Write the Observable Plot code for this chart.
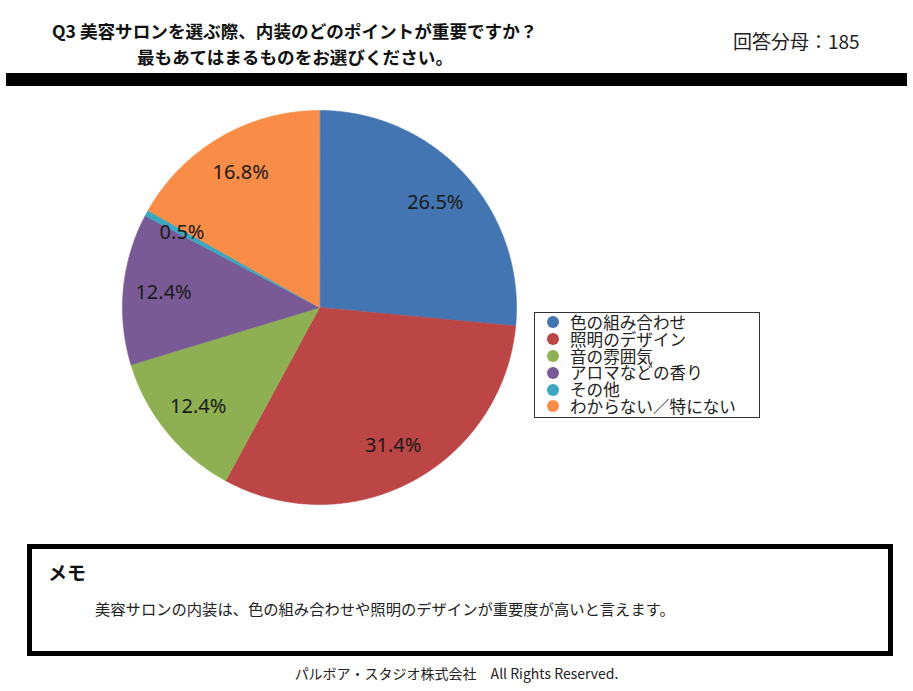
<!DOCTYPE html>
<html>
<head>
<meta charset="utf-8">
<script src="https://cdn.jsdelivr.net/npm/d3@7"></script>
<script src="https://cdn.jsdelivr.net/npm/@observablehq/plot@0.6"></script>
<style>
  html, body { margin: 0; padding: 0; background: #fff; }
  #page { position: relative; width: 913px; height: 691px; overflow: hidden; font-family: "Noto Sans CJK JP", "Noto Sans", sans-serif; color: #111; }
  .abs { position: absolute; white-space: nowrap; }
  #t1, #t2 { font-weight: bold; font-size: 17.6px; line-height: 20px; }
  #total { font-size: 19px; line-height: 22px; color: #222; }
  #bar { left: 6px; top: 73px; width: 901px; height: 13px; background: #000; }
  #legend { left: 534px; top: 312px; width: 226px; height: 106px; border: 1px solid #333; box-sizing: border-box; padding-top: 1px; }
  .li { display: flex; align-items: center; height: 16.8px; overflow: visible; }
  .lt { display: block; height: 16.8px; line-height: 16.8px; font-size: 16.6px; color: #222; }
  .dot { width: 12px; height: 12px; border-radius: 50%; margin-left: 12px; margin-right: 11px; flex: none; }
  #memo { left: 27px; top: 544px; width: 866px; height: 112px; border: 5px solid #000; box-sizing: border-box; }
  #memoTitle { left: 16px; top: 9px; font-weight: bold; font-size: 19px; }
  #memoText { left: 63px; top: 48px; font-size: 15.3px; color: #222; }
  #footer { left: 0; width: 913px; top: 663px; text-align: center; font-size: 14px; color: #222; }
  #pie { left: 122px; top: 110px; }
</style>
</head>
<body>
<div id="page">
  <div class="abs" id="t1" style="left:52px;top:21px;">Q3 美容サロンを選ぶ際、内装のどのポイントが重要ですか？</div>
  <div class="abs" id="t2" style="left:137px;top:47px;">最もあてはまるものをお選びください。</div>
  <div class="abs" id="total" style="left:733px;top:30px;">回答分母：185</div>
  <div class="abs" id="bar"></div>
  <div class="abs" id="pie"></div>
  <div class="abs" id="legend"></div>
  <div class="abs" id="memo">
    <div class="abs" id="memoTitle">メモ</div>
    <div class="abs" id="memoText">美容サロンの内装は、色の組み合わせや照明のデザインが重要度が高いと言えます。</div>
  </div>
  <div class="abs" id="footer">パルボア・スタジオ株式会社　All Rights Reserved.</div>
</div>
<script>
// ---- data ----
const categories = ["色の組み合わせ", "照明のデザイン", "音の雰囲気", "アロマなどの香り", "その他", "わからない／特にない"];
const values = [26.5, 31.4, 12.4, 12.4, 0.5, 16.8];
const colors = ["#4375B2", "#BC4545", "#8EB052", "#795A97", "#3BA7C0", "#F98C47"];
const valueLabels = ["26.5%", "31.4%", "12.4%", "12.4%", "0.5%", "16.8%"];

// ---- geometry derived from the data (clockwise from 12 o'clock) ----
const total = d3.sum(values);
const slicePoints = [];
const labelPoints = [];
let acc = 0;
categories.forEach((cat, i) => {
  const a0 = acc / total * 2 * Math.PI;
  acc += values[i];
  const a1 = acc / total * 2 * Math.PI;
  slicePoints.push({cat, x: 0, y: 0});
  const n = Math.max(2, Math.ceil((a1 - a0) / (Math.PI / 360)));
  for (let k = 0; k <= n; k++) {
    const a = a0 + (a1 - a0) * k / n;
    slicePoints.push({cat, x: Math.sin(a), y: Math.cos(a)});
  }
  const am = (a0 + a1) / 2;
  const rl = 0.795;
  labelPoints.push({cat, text: valueLabels[i], x: rl * Math.sin(am), y: rl * Math.cos(am)});
});

const chart = Plot.plot({
  width: 394,
  height: 394,
  margin: 0,
  x: {domain: [-1, 1], axis: null},
  y: {domain: [-1, 1], axis: null},
  color: {domain: categories, range: colors},
  style: {background: "transparent", overflow: "visible"},
  marks: [
    Plot.line(slicePoints, {x: "x", y: "y", z: "cat", fill: "cat", stroke: "cat", strokeWidth: 0.6, curve: "linear-closed"}),
    Plot.text(labelPoints, {x: "x", y: "y", text: "text", fontSize: 20, fill: "#1a1a1a", fontFamily: "'Noto Sans', sans-serif"})
  ]
});
document.getElementById("pie").appendChild(chart);

// ---- legend ----
const legend = document.getElementById("legend");
categories.forEach((cat, i) => {
  const row = document.createElement("div");
  row.className = "li";
  const dot = document.createElement("span");
  dot.className = "dot";
  dot.style.background = colors[i];
  const label = document.createElement("span");
  label.className = "lt";
  label.textContent = cat;
  row.appendChild(dot);
  row.appendChild(label);
  legend.appendChild(row);
});
</script>
</body>
</html>
